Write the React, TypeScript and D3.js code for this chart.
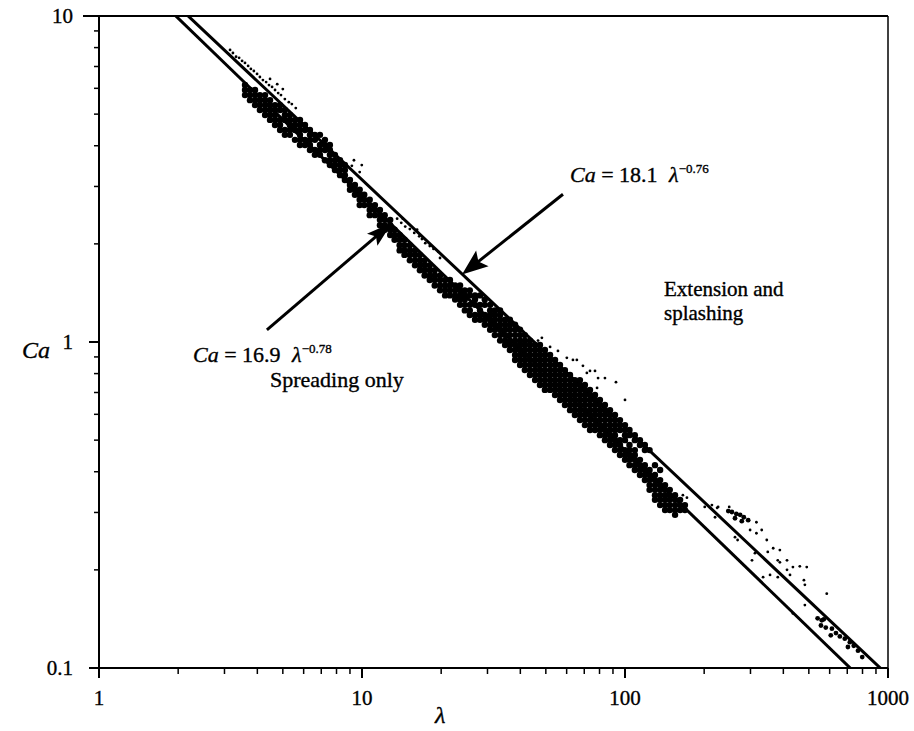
import React from 'react';
import * as d3 from 'd3';

// axis domains and tick labels
const xDomain = [1, 1000];
const yDomain = [0.1, 10];
const xMajor = [1, 10, 100, 1000];
const xMajorLabels = ['1', '10', '100', '1000'];
const yMajor = [0.1, 1, 10];
const yMajorLabels = ['0.1', '1', '10'];

// fitted boundaries Ca = coef * lambda^exp
const fitCoef = [16.9, 18.1];
const fitExp = [-0.78, -0.76];

// dense (heavy) data band: [lambda, list of Ca readings]
const spreadColumns: [number, number[]][] = [
  [3.59, [6.14, 5.93, 5.72]],
  [3.75, [5.93, 5.72, 5.52]],
  [3.92, [5.93, 5.72, 5.52, 5.33]],
  [4.09, [5.72, 5.52, 5.33, 5.15]],
  [4.28, [5.72, 5.52, 5.33, 5.15, 4.97]],
  [4.47, [5.52, 5.33, 5.15, 4.97, 4.8]],
  [4.67, [5.33, 5.15, 4.97, 4.8, 4.63]],
  [4.88, [5.33, 5.15, 4.8, 4.63, 4.47]],
  [5.09, [5.15, 4.97, 4.8, 4.47, 4.32]],
  [5.32, [4.97, 4.8, 4.63, 4.47, 4.32]],
  [5.56, [4.8, 4.63, 4.47, 4.17]],
  [5.81, [4.8, 4.63, 4.47, 4.32, 4.17, 4.02]],
  [6.07, [4.63, 4.47, 4.17, 4.02]],
  [6.34, [4.47, 4.32, 4.17, 4.02, 3.88]],
  [6.62, [4.32, 4.17, 3.88, 3.75]],
  [6.92, [4.32, 4.02, 3.88, 3.75]],
  [7.23, [4.17, 4.02, 3.88, 3.61]],
  [7.55, [4.02, 3.88, 3.75, 3.61, 3.49]],
  [7.89, [3.75, 3.61, 3.49, 3.37]],
  [8.25, [3.61, 3.49, 3.37, 3.25]],
  [8.61, [3.49, 3.37, 3.25, 3.14]],
  [9.0, [3.14, 3.03, 2.93]],
  [9.4, [3.03, 2.93, 2.83]],
  [9.8, [2.93, 2.83, 2.73, 2.63]],
  [10.2, [2.83, 2.73, 2.63]],
  [10.7, [2.73, 2.63, 2.54, 2.45]],
  [11.2, [2.63, 2.54, 2.45]],
  [11.7, [2.54, 2.45, 2.37, 2.28]],
  [12.2, [2.45, 2.37, 2.28, 2.21]],
  [12.8, [2.37, 2.28, 2.21, 2.13]],
  [13.3, [2.21, 2.13, 2.06]],
  [13.9, [2.13, 2.06, 1.98, 1.91]],
  [14.5, [2.06, 1.98, 1.91, 1.85]],
  [15.2, [1.98, 1.91, 1.85, 1.78]],
  [15.9, [1.91, 1.85, 1.78, 1.72]],
  [16.6, [1.85, 1.78, 1.72, 1.66]],
  [17.3, [1.78, 1.72, 1.66, 1.6]],
  [18.1, [1.72, 1.66, 1.6, 1.55]],
  [18.9, [1.66, 1.6, 1.55, 1.49]],
  [19.8, [1.6, 1.55, 1.49, 1.44]],
  [20.7, [1.55, 1.49, 1.44, 1.39]],
  [21.6, [1.55, 1.49, 1.44, 1.39]],
  [22.6, [1.49, 1.44, 1.39, 1.35]],
  [23.6, [1.49, 1.44, 1.39, 1.35, 1.3]],
  [24.6, [1.44, 1.39, 1.35, 1.3, 1.25]],
  [25.7, [1.44, 1.39, 1.3, 1.25, 1.21]],
  [26.9, [1.39, 1.35, 1.3, 1.21, 1.17]],
  [28.1, [1.39, 1.3, 1.25, 1.21, 1.17]],
  [29.3, [1.35, 1.3, 1.21, 1.17, 1.13]],
  [30.7, [1.3, 1.25, 1.21, 1.17, 1.13, 1.09]],
  [32.0, [1.25, 1.21, 1.17, 1.13, 1.09, 1.05]],
  [33.5, [1.25, 1.21, 1.17, 1.13, 1.09, 1.05, 1.01]],
  [35.0, [1.17, 1.13, 1.09, 1.05, 1.01, 0.979]],
  [36.5, [1.17, 1.13, 1.09, 1.05, 1.01, 0.979, 0.945]],
  [38.2, [1.13, 1.09, 1.05, 1.01, 0.979, 0.945, 0.912, 0.881]],
  [39.9, [1.09, 1.05, 1.01, 0.979, 0.945, 0.912, 0.881, 0.85]],
  [41.6, [1.05, 1.01, 0.979, 0.945, 0.912, 0.881, 0.85, 0.82]],
  [43.5, [1.01, 0.979, 0.945, 0.912, 0.881, 0.85, 0.82, 0.792]],
  [45.5, [0.979, 0.945, 0.912, 0.881, 0.85, 0.82, 0.792, 0.764]],
  [47.5, [0.979, 0.945, 0.912, 0.881, 0.85, 0.82, 0.792, 0.764, 0.738]],
  [49.6, [0.945, 0.912, 0.881, 0.85, 0.82, 0.792, 0.764, 0.738, 0.713]],
  [51.9, [0.912, 0.881, 0.85, 0.82, 0.792, 0.764, 0.738, 0.713]],
  [54.2, [0.881, 0.85, 0.82, 0.792, 0.764, 0.738, 0.713, 0.688]],
  [56.6, [0.85, 0.82, 0.792, 0.764, 0.738, 0.713, 0.688, 0.664]],
  [59.1, [0.82, 0.792, 0.764, 0.738, 0.713, 0.688, 0.664, 0.641]],
  [61.8, [0.792, 0.764, 0.738, 0.713, 0.688, 0.664, 0.641, 0.618]],
  [64.5, [0.764, 0.738, 0.713, 0.688, 0.664, 0.641, 0.618, 0.597]],
  [67.4, [0.764, 0.738, 0.713, 0.688, 0.664, 0.641, 0.618, 0.597, 0.576]],
  [70.4, [0.738, 0.713, 0.688, 0.664, 0.641, 0.618, 0.597, 0.576, 0.556]],
  [73.6, [0.713, 0.688, 0.664, 0.641, 0.618, 0.597, 0.576, 0.556, 0.537]],
  [76.9, [0.688, 0.664, 0.641, 0.618, 0.597, 0.576, 0.556, 0.537]],
  [80.3, [0.664, 0.641, 0.618, 0.597, 0.576, 0.556, 0.537, 0.518]],
  [83.9, [0.641, 0.618, 0.597, 0.576, 0.556, 0.537, 0.518, 0.5]],
  [87.7, [0.618, 0.597, 0.576, 0.556, 0.537, 0.518, 0.5, 0.483]],
  [91.6, [0.597, 0.576, 0.556, 0.537, 0.518, 0.5, 0.483, 0.466]],
  [95.7, [0.576, 0.556, 0.537, 0.5, 0.483, 0.466, 0.45]],
  [100, [0.556, 0.537, 0.518, 0.5, 0.466, 0.45, 0.435]],
  [104, [0.537, 0.518, 0.483, 0.466, 0.45, 0.435, 0.419]],
  [109, [0.518, 0.5, 0.466, 0.45, 0.435, 0.419, 0.405]],
  [114, [0.5, 0.483, 0.435, 0.419, 0.405, 0.391]],
  [119, [0.483, 0.466, 0.419, 0.405, 0.391, 0.377]],
  [124, [0.466, 0.405, 0.391, 0.377, 0.364, 0.352]],
  [130, [0.419, 0.391, 0.377, 0.364, 0.352, 0.339, 0.328]],
  [136, [0.405, 0.377, 0.364, 0.352, 0.339, 0.328, 0.316]],
  [142, [0.364, 0.352, 0.339, 0.328, 0.316, 0.305]],
  [148, [0.352, 0.339, 0.328, 0.316, 0.305]],
  [155, [0.339, 0.328, 0.316, 0.305, 0.295]],
  [162, [0.328, 0.316, 0.305]],
  [169, [0.316, 0.305]],
];

// compact clusters at high lambda
const clusterPoints: [number, number][] = [
  [247, 0.303], [255, 0.301], [265, 0.297], [274, 0.295], [283, 0.29], [294, 0.284], [262, 0.288], [278, 0.282],
  [540, 0.142], [560, 0.14], [570, 0.141], [556, 0.135], [580, 0.133], [612, 0.132], [634, 0.128], [606, 0.126],
  [656, 0.125], [685, 0.123], [716, 0.12], [704, 0.116], [741, 0.117], [769, 0.113], [798, 0.108],
];

// sparse small dots
const dotPoints: [number, number][] = [
  [3.15, 7.87], [3.23, 7.7], [3.32, 7.5], [3.41, 7.44], [3.5, 7.28], [3.59, 7.18], [3.69, 7.03], [3.78, 6.88],
  [3.88, 6.78], [3.99, 6.64], [4.09, 6.5], [4.2, 6.36], [4.32, 6.27], [4.43, 6.14], [4.55, 6.06], [4.67, 5.93],
  [4.8, 5.8], [4.92, 5.72], [5.09, 5.56], [5.27, 5.44], [4.47, 6.41], [4.76, 6.18], [5.0, 5.97], [5.41, 5.37], [5.6, 5.22],
  [9.32, 3.61], [9.98, 3.49], [9.8, 3.32], [9.15, 3.47],
  [13.6, 2.39], [14.1, 2.32], [14.6, 2.26], [15.2, 2.22], [15.8, 2.16], [16.5, 2.11], [16.9, 2.07], [17.4, 2.01],
  [18.1, 1.97], [18.7, 1.93], [19.5, 1.89], [14.3, 2.39], [16.2, 2.21], [19.8, 1.81], [23.2, 1.36], [20.9, 1.44],
  [46.7, 1.01], [48.3, 1.03], [51.9, 0.966], [55.6, 0.939], [60.1, 0.894], [63.4, 0.881], [65.6, 0.881], [71.6, 0.804],
  [73.6, 0.815], [76.9, 0.815], [79.0, 0.775], [83.9, 0.775], [92.4, 0.753], [100, 0.664], [78.3, 0.723], [69.2, 0.845],
  [166, 0.339], [172, 0.333], [201, 0.312], [214, 0.316], [226, 0.312], [249, 0.312], [316, 0.28], [331, 0.265],
  [316, 0.259], [299, 0.265], [346, 0.247], [366, 0.233], [388, 0.23], [349, 0.227], [312, 0.225], [304, 0.214],
  [381, 0.214], [388, 0.211], [413, 0.214], [435, 0.204], [462, 0.205], [491, 0.204], [413, 0.2], [424, 0.193],
  [479, 0.186], [483, 0.18], [356, 0.193], [335, 0.19], [381, 0.19], [585, 0.169], [483, 0.156], [435, 0.147],
  [262, 0.252], [268, 0.247], [220, 0.29], [224, 0.31],
];

// annotation arrows: [tailLambda, tailCa, tipLambda, tipCa]
const arrowLower = [4.35, 1.09, 13.0, 2.32];
const arrowUpper = [58.1, 2.84, 24.0, 1.61];

const FONT = '"Liberation Serif", "Times New Roman", serif';

export default function App() {
  const W = 914, H = 731;
  const left = 99, right = 888, top = 16, bottom = 668;
  const x = d3.scaleLog().domain(xDomain).range([left, right]);
  const y = d3.scaleLog().domain(yDomain).range([bottom, top]);

  const xMinor = x.ticks().filter((t) => !xMajor.some((m) => Math.abs(m - t) < 1e-9));
  const yMinor = y.ticks().filter((t) => !yMajor.some((m) => Math.abs(m - t) < 1e-9));

  const line = d3.line<[number, number]>().x((d) => x(d[0])).y((d) => y(d[1]));
  const fitPaths = fitCoef.map((c, i) => {
    const pts: [number, number][] = [0.5, 2000].map((l) => [l, c * Math.pow(l, fitExp[i])]);
    return line(pts) as string;
  });

  const densePts: [number, number][] = [];
  spreadColumns.forEach(([l, cas]) => cas.forEach((c) => densePts.push([l, c])));

  const arrow = (a: number[], headLen: number, headHalf: number) => {
    const x0 = x(a[0]), y0 = y(a[1]), x1 = x(a[2]), y1 = y(a[3]);
    const dx = x1 - x0, dy = y1 - y0;
    const len = Math.hypot(dx, dy);
    const ux = dx / len, uy = dy / len;
    const nx = -uy, ny = ux;
    const bx = x1 - ux * headLen, by = y1 - uy * headLen;
    const pts = [
      [x1, y1],
      [bx + nx * headHalf, by + ny * headHalf],
      [bx + ux * 5, by + uy * 5],
      [bx - nx * headHalf, by - ny * headHalf],
    ];
    return (
      <g>
        <line x1={x0} y1={y0} x2={bx + ux * 6} y2={by + uy * 6} stroke="#000" strokeWidth={3} />
        <polygon points={pts.map((p) => p.join(',')).join(' ')} fill="#000" />
      </g>
    );
  };

  const textStroke = { stroke: '#000', strokeWidth: 0.35 };

  return (
    <svg width={W} height={H} style={{ position: 'absolute', left: 0, top: 0, background: '#fff' }} fontFamily={FONT}>
      <rect x={0} y={0} width={W} height={H} fill="#fff" />
      <defs>
        <clipPath id="plotClip">
          <rect x={left} y={top} width={right - left} height={bottom - top} />
        </clipPath>
      </defs>

      {/* frame */}
      <line x1={left - 16} y1={top} x2={right} y2={top} stroke="#000" strokeWidth={2} />
      <line x1={right} y1={top} x2={right} y2={bottom + 4} stroke="#000" strokeWidth={1.5} />
      <line x1={left - 9} y1={bottom} x2={right} y2={bottom} stroke="#000" strokeWidth={2} />
      <line x1={left} y1={top} x2={left} y2={bottom + 10} stroke="#000" strokeWidth={2} />

      {/* x ticks */}
      {xMajor.map((t) => (
        <line key={'xM' + t} x1={x(t)} x2={x(t)} y1={bottom} y2={bottom + 10} stroke="#000" strokeWidth={2} />
      ))}
      {xMinor.map((t) => (
        <line key={'xm' + t} x1={x(t)} x2={x(t)} y1={bottom} y2={bottom + 6} stroke="#000" strokeWidth={1.5} />
      ))}
      {xMajor.map((t, i) => (
        <text key={'xl' + t} x={x(t)} y={705} fontSize={21} textAnchor="middle" {...textStroke}>
          {xMajorLabels[i]}
        </text>
      ))}

      {/* y ticks */}
      {yMajor.map((t) => (
        <line key={'yM' + t} x1={left - 10} x2={left} y1={y(t)} y2={y(t)} stroke="#000" strokeWidth={2} />
      ))}
      {yMinor.map((t) => (
        <line key={'ym' + t} x1={left - 5} x2={left} y1={y(t)} y2={y(t)} stroke="#000" strokeWidth={1.5} />
      ))}
      {yMajor.map((t, i) => (
        <text key={'yl' + t} x={73} y={y(t) + 7} fontSize={21} textAnchor="end" {...textStroke}>
          {yMajorLabels[i]}
        </text>
      ))}

      {/* axis titles */}
      <text x={22} y={358} fontSize={24} fontStyle="italic" {...textStroke}>Ca</text>
      <text x={435} y={723} fontSize={24} fontStyle="italic" {...textStroke}>λ</text>

      {/* fitted lines and data */}
      <g clipPath="url(#plotClip)">
        {fitPaths.map((p, i) => (
          <path key={'fit' + i} d={p} fill="none" stroke="#000" strokeWidth={3} />
        ))}
        {densePts.map((d, i) => (
          <circle key={'d' + i} cx={x(d[0])} cy={y(d[1])} r={3.2} fill="#000" />
        ))}
        {clusterPoints.map((d, i) => (
          <circle key={'c' + i} cx={x(d[0])} cy={y(d[1])} r={2.4} fill="#000" />
        ))}
        {dotPoints.map((d, i) => (
          <circle key={'p' + i} cx={x(d[0])} cy={y(d[1])} r={1.4} fill="#000" />
        ))}
      </g>

      {/* arrows */}
      {arrow(arrowLower, 26, 8)}
      {arrow(arrowUpper, 26, 10)}

      {/* annotations */}
      <g {...textStroke}>
        <text x={193} y={362} fontSize={22}>
          <tspan fontStyle="italic">Ca</tspan>
          <tspan> = 16.9 </tspan>
          <tspan dx={6} fontStyle="italic">λ</tspan>
          <tspan fontSize={13} dy={-9}>−0.78</tspan>
        </text>
        <text x={570} y={182} fontSize={22}>
          <tspan fontStyle="italic">Ca</tspan>
          <tspan> = 18.1 </tspan>
          <tspan dx={6} fontStyle="italic">λ</tspan>
          <tspan fontSize={13} dy={-9}>−0.76</tspan>
        </text>
        <text x={664} y={296} fontSize={21}>Extension and</text>
        <text x={664} y={320} fontSize={21}>splashing</text>
        <text x={270} y={387} fontSize={22}>Spreading only</text>
      </g>
    </svg>
  );
}
